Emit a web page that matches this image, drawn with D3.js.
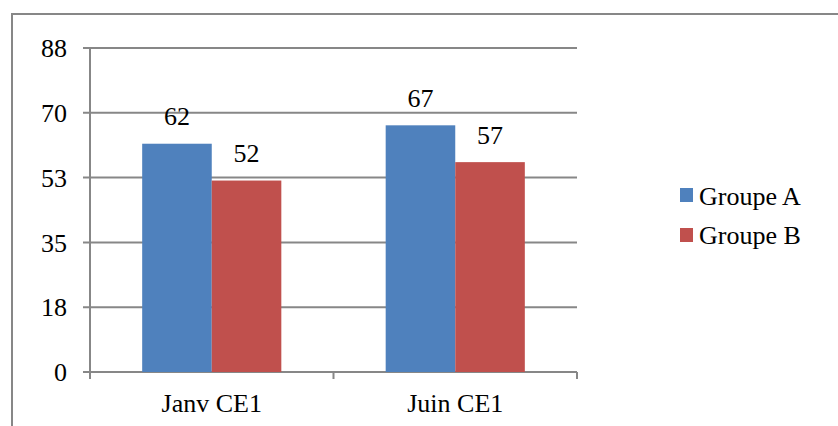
<!DOCTYPE html>
<html><head><meta charset="utf-8">
<script src="https://cdn.jsdelivr.net/npm/d3@7"></script>
</head><body style="margin:0;background:#fff;font-family:'Liberation Serif',serif;">
<svg id="c" width="838" height="426" style="font-family:'Liberation Serif',serif;font-size:26px;"></svg>
<script>
const categories = ["Janv CE1", "Juin CE1"];
const seriesNames = ["Groupe A", "Groupe B"];
const groupeA = [62, 67];
const groupeB = [52, 57];
const tickValues = [0, 17.6, 35.2, 52.8, 70.4, 88];
const tickLabels = ["0", "18", "35", "53", "70", "88"];
const colors = ["#4F81BD", "#C0504D"];

const svg = d3.select("#c");
const grid = "#878787";

// outer frame (clipped by window)
svg.append("rect").attr("x", 12).attr("y", 14).attr("width", 900).attr("height", 500)
  .attr("fill", "none").attr("stroke", grid).attr("stroke-width", 2);

const x0 = 90, x1 = 577, yTop = 48, yBot = 372;
const x = d3.scaleBand().domain(categories).range([x0, x1]);
const y = d3.scaleLinear().domain([0, 88]).range([yBot, yTop]);
const inner = d3.scaleBand().domain(seriesNames).range([0, x.bandwidth()]).paddingOuter(0.75).paddingInner(0);

svg.append("g").selectAll("line").data(tickValues).join("line")
  .attr("x1", x0 - 7).attr("x2", x1).attr("y1", d => y(d)).attr("y2", d => y(d))
  .attr("stroke", grid).attr("stroke-width", 2);

svg.append("line").attr("x1", x0).attr("x2", x0).attr("y1", yTop - 1).attr("y2", yBot + 7)
  .attr("stroke", grid).attr("stroke-width", 2);

const xTicks = [x0, ...categories.map(c => x(c) + x.bandwidth())];
svg.append("g").selectAll("line").data(xTicks).join("line")
  .attr("x1", d => d).attr("x2", d => d).attr("y1", yBot).attr("y2", yBot + 7)
  .attr("stroke", grid).attr("stroke-width", 2);

svg.append("g").selectAll("text").data(tickValues).join("text")
  .attr("x", 67).attr("y", d => y(d)).attr("dy", "0.35em")
  .attr("text-anchor", "end")
  .text((d, i) => tickLabels[i]);

const series = [groupeA, groupeB];
series.forEach((vals, si) => {
  const g = svg.append("g");
  g.selectAll("rect").data(categories).join("rect")
    .attr("x", c => x(c) + inner(seriesNames[si]))
    .attr("width", inner.bandwidth())
    .attr("y", (c, i) => y(vals[i]))
    .attr("height", (c, i) => yBot - y(vals[i]))
    .attr("fill", colors[si]);
  g.selectAll("text").data(categories).join("text")
    .attr("x", c => x(c) + inner(seriesNames[si]) + inner.bandwidth() / 2)
    .attr("y", (c, i) => y(vals[i]) - 18.5)
    .attr("text-anchor", "middle")
    .text((c, i) => vals[i]);
});

svg.append("g").selectAll("text").data(categories).join("text")
  .attr("x", c => x(c) + x.bandwidth() / 2).attr("y", 412)
  .attr("text-anchor", "middle")
  .text(c => c);

const leg = svg.append("g");
seriesNames.forEach((n, i) => {
  leg.append("rect").attr("x", 680).attr("y", 188 + i * 40).attr("width", 13).attr("height", 14).attr("fill", colors[i]);
  leg.append("text").attr("x", 699).attr("y", 205 + i * 39).text(n);
});
</script>
</body></html>
